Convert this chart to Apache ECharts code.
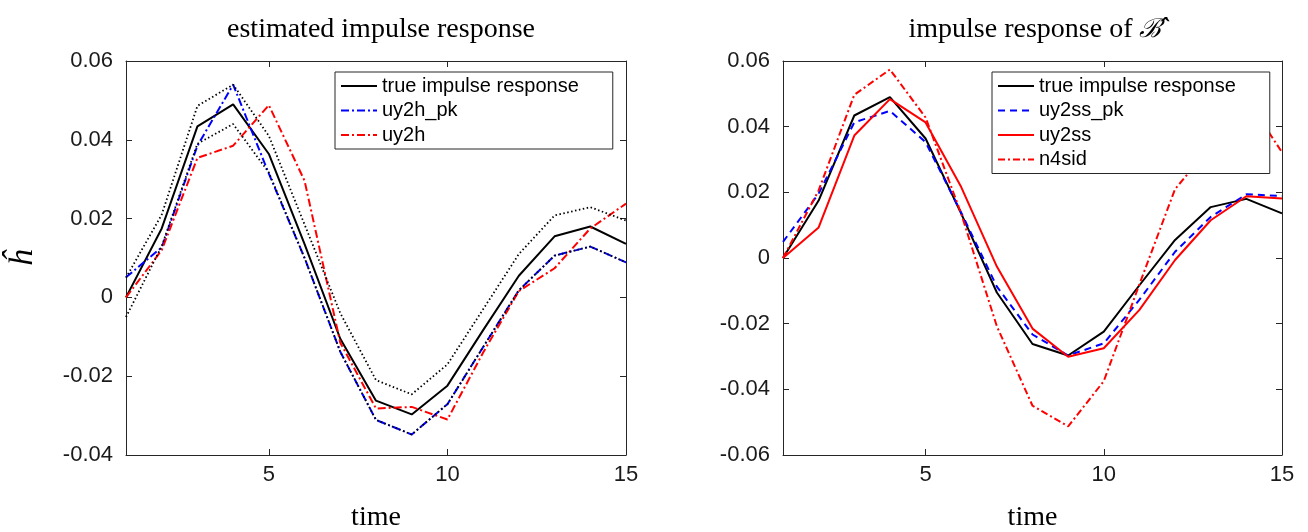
<!DOCTYPE html>
<html><head><meta charset="utf-8">
<script src="https://cdn.jsdelivr.net/npm/echarts@6/dist/echarts.min.js"></script>
<style>html,body{margin:0;padding:0;background:#fff}#c{width:1308px;height:532px}</style>
</head><body><div id="c"></div>
<script>
// ---- data ----
const time = [1,2,3,4,5,6,7,8,9,10,11,12,13,14,15];
const xTicks = [5,10,15];
const yTicksLeft = [-0.04,-0.02,0,0.02,0.04,0.06];
const yTicksRight = [-0.06,-0.04,-0.02,0,0.02,0.04,0.06];

const trueResp = [0, 0.0175, 0.0434, 0.049, 0.0364, 0.0135, -0.0105, -0.0262, -0.0297, -0.0224, -0.0083, 0.0055, 0.0155, 0.018, 0.0136];

// left plot
const upperBound = [0.005, 0.021, 0.0486, 0.054, 0.041, 0.0185, -0.004, -0.021, -0.0246, -0.017, -0.003, 0.011, 0.0208, 0.0229, 0.0195];
const lowerBound = [-0.005, 0.013, 0.039, 0.044, 0.0317, 0.010, -0.0138, -0.0311, -0.0348, -0.0271, -0.0126, 0.0018, 0.0106, 0.0129, 0.0089];
const uy2h_pk = [0.0051, 0.0127, 0.0385, 0.054, 0.0314, 0.010, -0.0138, -0.0311, -0.0348, -0.0271, -0.0126, 0.0018, 0.0106, 0.0129, 0.0089];
const uy2h = [0, 0.012, 0.0354, 0.0385, 0.0488, 0.0296, -0.0115, -0.0282, -0.0278, -0.031, -0.014, 0.0016, 0.0074, 0.0175, 0.0238];

// right plot
const uy2ss_pk = [0.0049, 0.0196, 0.0413, 0.0448, 0.0353, 0.0138, -0.0087, -0.0233, -0.0297, -0.026, -0.0127, 0.0019, 0.0125, 0.0194, 0.0189];
const uy2ss = [0, 0.0093, 0.0373, 0.0484, 0.0413, 0.0216, -0.0026, -0.0215, -0.0301, -0.0275, -0.0158, -0.0006, 0.0115, 0.0188, 0.0181];
const n4sid = [0, 0.0206, 0.0497, 0.0574, 0.0428, 0.0135, -0.0208, -0.045, -0.0513, -0.0375, -0.008, 0.021, 0.034, 0.0487, 0.0322];

// ---- chart ----
const AX = '#262626';
const SANS = 'Liberation Sans, Arial, sans-serif';
const SERIF = 'Liberation Serif, Times New Roman, serif';
const pair = ys => time.map((t, i) => [t, ys[i]]);

function xAxis(gi, pos, showLab) {
  return {
    type: 'value', gridIndex: gi, position: pos, min: 1, max: 15,
    axisLine: { show: true, onZero: false, lineStyle: { color: AX, width: 1 } },
    axisTick: { show: true, inside: true, length: 6, customValues: xTicks, lineStyle: { color: AX } },
    axisLabel: { show: showLab, customValues: xTicks, margin: 9, color: '#1a1a1a', fontFamily: SANS, fontSize: 22 },
    splitLine: { show: false },
    name: showLab ? 'time' : '', nameLocation: 'middle', nameGap: 49,
    nameTextStyle: { fontFamily: SERIF, fontSize: 28, color: '#000' }
  };
}
function yAxis(gi, pos, showLab, ticks, name) {
  return {
    type: 'value', gridIndex: gi, position: pos, min: ticks[0], max: ticks[ticks.length - 1],
    axisLine: { show: true, onZero: false, lineStyle: { color: AX, width: 1 } },
    axisTick: { show: true, inside: true, length: 6, customValues: ticks, lineStyle: { color: AX } },
    axisLabel: { show: showLab, customValues: ticks, margin: 13, color: '#1a1a1a', fontFamily: SANS, fontSize: 22,
      formatter: v => String(v) },
    splitLine: { show: false },
    name: name || '', nameLocation: 'middle', nameRotate: 90, nameGap: 86,
    nameTextStyle: { fontFamily: SERIF, fontStyle: 'italic', fontSize: 34, color: '#000' }
  };
}
function line(name, xi, yi, data, color, type, width) {
  return {
    type: 'line', name: name, xAxisIndex: xi, yAxisIndex: yi, data: pair(data),
    symbol: 'none', showSymbol: false, silent: true, animation: false,
    lineStyle: { color: color, width: width || 2, type: type || 'solid' },
    itemStyle: { color: color }
  };
}
const legendCommon = {
  orient: 'vertical', itemWidth: 36, itemHeight: 14, itemGap: 4.5,
  padding: [4, 34, 4, 5], borderColor: AX, borderWidth: 1, backgroundColor: '#fff',
  itemStyle: { opacity: 0, borderWidth: 0 },
  textStyle: { fontFamily: SANS, fontSize: 20, color: '#000', lineHeight: 20 },
  selectedMode: false
};

const chart = echarts.init(document.getElementById('c'), null, { renderer: 'canvas' });
chart.setOption({
  animation: false,
  backgroundColor: '#fff',
  title: [
    { text: 'estimated impulse response', left: 376, top: 11, textAlign: 'center',
      textStyle: { fontFamily: SERIF, fontSize: 28, fontWeight: 'normal', color: '#000' } },
    { text: 'impulse response of {b|ℬ̂}', left: 1030, top: 11, textAlign: 'center',
      textStyle: { fontFamily: SERIF, fontSize: 28, fontWeight: 'normal', color: '#000',
        rich: { b: { fontFamily: 'DejaVu Serif', fontStyle: 'italic', fontSize: 26, color: '#000' } } } }
  ],
  grid: [
    { left: 126, top: 61, width: 500, height: 394, containLabel: false, outerBoundsMode: 'none' },
    { left: 783, top: 61, width: 499, height: 394, containLabel: false, outerBoundsMode: 'none' }
  ],
  xAxis: [xAxis(0, 'bottom', true), xAxis(0, 'top', false), xAxis(1, 'bottom', true), xAxis(1, 'top', false)],
  yAxis: [yAxis(0, 'left', true, yTicksLeft, 'ĥ'), yAxis(0, 'right', false, yTicksLeft),
          yAxis(1, 'left', true, yTicksRight), yAxis(1, 'right', false, yTicksRight)],
  legend: [
    Object.assign({}, legendCommon, { left: 335, top: 72, data: ['true impulse response', 'uy2h_pk', 'uy2h'] }),
    Object.assign({}, legendCommon, { left: 992, top: 72, data: ['true impulse response', 'uy2ss_pk', 'uy2ss', 'n4sid'] })
  ],
  series: [
    line('true impulse response', 0, 0, trueResp, '#000'),
    line('uy2h_pk', 0, 0, uy2h_pk, '#0000ff', [8, 3, 2, 3]),
    line('uy2h', 0, 0, uy2h, '#ff0000', [8, 3, 2, 3]),
    line('upper', 0, 0, upperBound, '#000', [1.5, 2.5], 1.8),
    line('lower', 0, 0, lowerBound, '#000', [1.5, 2.5], 1.8),
    line('true impulse response', 2, 2, trueResp, '#000'),
    line('uy2ss_pk', 2, 2, uy2ss_pk, '#0000ff', [7, 5]),
    line('uy2ss', 2, 2, uy2ss, '#ff0000'),
    line('n4sid', 2, 2, n4sid, '#ff0000', [7, 3, 2, 3])
  ]
});
</script>
</body></html>
